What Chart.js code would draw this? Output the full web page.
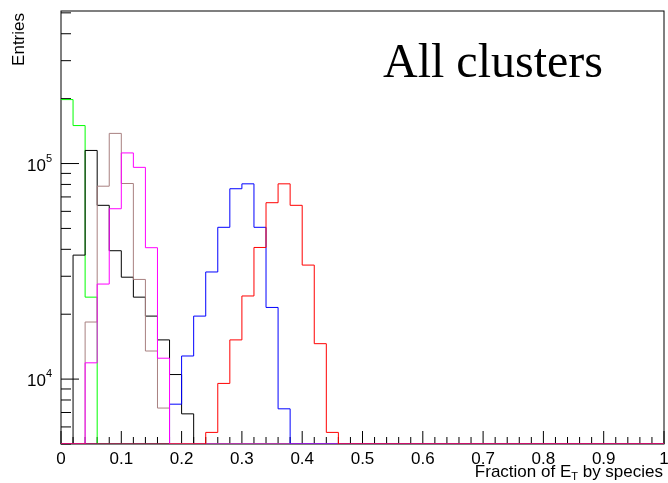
<!DOCTYPE html>
<html>
<head>
<meta charset="utf-8">
<script src="https://cdn.jsdelivr.net/npm/chart.js@4.4.1/dist/chart.umd.min.js"></script>
<style>
  body { margin: 0; background: #fff; }
  #wrap { width: 668px; height: 483px; }
</style>
</head>
<body>
<div id="wrap"><canvas id="chart" width="668" height="483"></canvas></div>
<script>
// histogram: 50 bins of 0.02 on [0, 1], log y
const nBins = 50;
const xMin = 0;
const xMax = 1;
const yMin = 5000;
const yMax = 510000;

const xTickLabels = ['0', '0.1', '0.2', '0.3', '0.4', '0.5', '0.6', '0.7', '0.8', '0.9', '1'];
const yTickExponents = [4, 5];

// bin contents (0 = below the axis)
const greenCounts = [198000, 150000, 24000, 0, 0, 0, 0, 0, 0, 0,
  0, 0, 0, 0, 0, 0, 0, 0, 0, 0, 0, 0, 0, 0, 0,
  0, 0, 0, 0, 0, 0, 0, 0, 0, 0, 0, 0, 0, 0, 0,
  0, 0, 0, 0, 0, 0, 0, 0, 0, 0];
const blackCounts = [0, 37600, 115000, 64000, 39400, 29700, 24000, 19600, 15200, 10500,
  6900, 0, 0, 0, 0, 0, 0, 0, 0, 0, 0, 0, 0, 0, 0,
  0, 0, 0, 0, 0, 0, 0, 0, 0, 0, 0, 0, 0, 0, 0,
  0, 0, 0, 0, 0, 0, 0, 0, 0, 0];
const brownCounts = [0, 0, 18400, 78500, 138000, 80800, 29000, 13500, 7340, 0,
  0, 0, 0, 0, 0, 0, 0, 0, 0, 0, 0, 0, 0, 0, 0,
  0, 0, 0, 0, 0, 0, 0, 0, 0, 0, 0, 0, 0, 0, 0,
  0, 0, 0, 0, 0, 0, 0, 0, 0, 0];
const magentaCounts = [0, 0, 11900, 27600, 61700, 112000, 96000, 40700, 12500, 0,
  0, 0, 0, 0, 0, 0, 0, 0, 0, 0, 0, 0, 0, 0, 0,
  0, 0, 0, 0, 0, 0, 0, 0, 0, 0, 0, 0, 0, 0, 0,
  0, 0, 0, 0, 0, 0, 0, 0, 0, 0];
const blueCounts = [0, 0, 0, 0, 0, 0, 0, 0, 0, 7650,
  12800, 19600, 31400, 50600, 76400, 80500, 50600, 21500, 7280, 0,
  0, 0, 0, 0, 0, 0, 0, 0, 0, 0, 0, 0, 0, 0, 0,
  0, 0, 0, 0, 0, 0, 0, 0, 0, 0, 0, 0, 0, 0, 0];
const redCounts = [0, 0, 0, 0, 0, 0, 0, 0, 0, 0,
  0, 0, 5660, 9550, 15200, 24300, 40800, 65800, 80500, 64000,
  33800, 14600, 5660, 0, 0, 0, 0, 0, 0, 0,
  0, 0, 0, 0, 0, 0, 0, 0, 0, 0, 0, 0, 0, 0, 0,
  0, 0, 0, 0, 0];

const binWidth = (xMax - xMin) / nBins;

// low edge of every bin plus a closing point at xMax; empty bins sit on the axis floor
function histPoints(counts) {
  const pts = counts.map((c, i) => ({ x: xMin + i * binWidth, y: c > yMin ? c : yMin }));
  pts.push({ x: xMax, y: pts[pts.length - 1].y });
  return pts;
}

function histDataset(counts, color) {
  return {
    data: histPoints(counts),
    borderColor: color,
    borderWidth: 1,
    stepped: 'before',
    pointRadius: 0,
    fill: false,
    tension: 0,
  };
}

const FONT = '"Liberation Sans", Arial, sans-serif';

const rootFrame = {
  id: 'rootFrame',
  beforeDatasetsDraw(chart) {
    const ctx = chart.ctx;
    const a = chart.chartArea;
    const xs = chart.scales.x;
    const ys = chart.scales.y;
    ctx.save();
    ctx.strokeStyle = '#000';
    ctx.lineWidth = 1;
    ctx.strokeRect(a.left, a.top, a.right - a.left, a.bottom - a.top);

    // x ticks, inside the frame
    ctx.beginPath();
    for (let i = 0; i <= nBins; i++) {
      const v = xMin + i * binWidth;
      const px = xs.getPixelForValue(v);
      const len = i % 5 === 0 ? 13 : 7;
      ctx.moveTo(px, a.bottom);
      ctx.lineTo(px, a.bottom - len);
    }
    // y ticks (log)
    for (let e = 3; e <= 5; e++) {
      for (let m = 1; m <= 9; m++) {
        const v = m * Math.pow(10, e);
        if (v < yMin || v > yMax) continue;
        const py = ys.getPixelForValue(v);
        const len = m === 1 ? 18 : 10;
        ctx.moveTo(a.left, py);
        ctx.lineTo(a.left + len, py);
      }
    }
    ctx.stroke();
    ctx.restore();
  },
  afterDraw(chart) {
    const ctx = chart.ctx;
    const xs = chart.scales.x;
    const ys = chart.scales.y;
    ctx.save();
    ctx.fillStyle = '#000';

    // x tick labels
    ctx.font = '17px ' + FONT;
    ctx.textAlign = 'center';
    ctx.textBaseline = 'alphabetic';
    xTickLabels.forEach(t => {
      ctx.fillText(t, xs.getPixelForValue(parseFloat(t)), 464);
    });

    // y tick labels 10^n
    yTickExponents.forEach(e => {
      const py = ys.getPixelForValue(Math.pow(10, e));
      ctx.font = '11px ' + FONT;
      ctx.textAlign = 'right';
      const supW = ctx.measureText(String(e)).width;
      ctx.fillText(String(e), 52, py - 2);
      ctx.font = '17px ' + FONT;
      ctx.fillText('10', 52 - supW, py + 7);
    });

    // axis titles
    ctx.font = '17px ' + FONT;
    ctx.textAlign = 'left';
    const p1 = 'Fraction of E', p3 = ' by species';
    const w1 = ctx.measureText(p1).width;
    const w3 = ctx.measureText(p3).width;
    ctx.font = '11px ' + FONT;
    const w2 = ctx.measureText('T').width;
    const x0 = 663 - (w1 + w2 + w3);
    ctx.font = '17px ' + FONT;
    ctx.fillText(p1, x0, 477);
    ctx.font = '11px ' + FONT;
    ctx.fillText('T', x0 + w1, 480);
    ctx.font = '17px ' + FONT;
    ctx.fillText(p3, x0 + w1 + w2, 477);

    ctx.save();
    ctx.translate(24, 13);
    ctx.rotate(-Math.PI / 2);
    ctx.textAlign = 'right';
    ctx.fillText('Entries', 0, 0);
    ctx.restore();

    // title text
    ctx.font = '48px "Liberation Serif", "Times New Roman", serif';
    ctx.textAlign = 'left';
    ctx.fillText('All clusters', 383, 77);
    ctx.restore();
  }
};

new Chart(document.getElementById('chart').getContext('2d'), {
  type: 'line',
  data: {
    // first dataset is drawn on top
    datasets: [
      histDataset(redCounts, '#ff0000'),
      histDataset(magentaCounts, '#ff00ff'),
      histDataset(blueCounts, '#0000ff'),
      histDataset(brownCounts, '#a88080'),
      histDataset(blackCounts, '#000000'),
      histDataset(greenCounts, '#00ff00'),
    ]
  },
  options: {
    responsive: false,
    animation: false,
    layout: { padding: { left: 61, right: 4, top: 11, bottom: 39 } },
    plugins: { legend: { display: false }, tooltip: { enabled: false } },
    scales: {
      x: { type: 'linear', min: xMin, max: xMax, display: false },
      y: { type: 'logarithmic', min: yMin, max: yMax, display: false },
    },
  },
  plugins: [rootFrame],
});
</script>
</body>
</html>
